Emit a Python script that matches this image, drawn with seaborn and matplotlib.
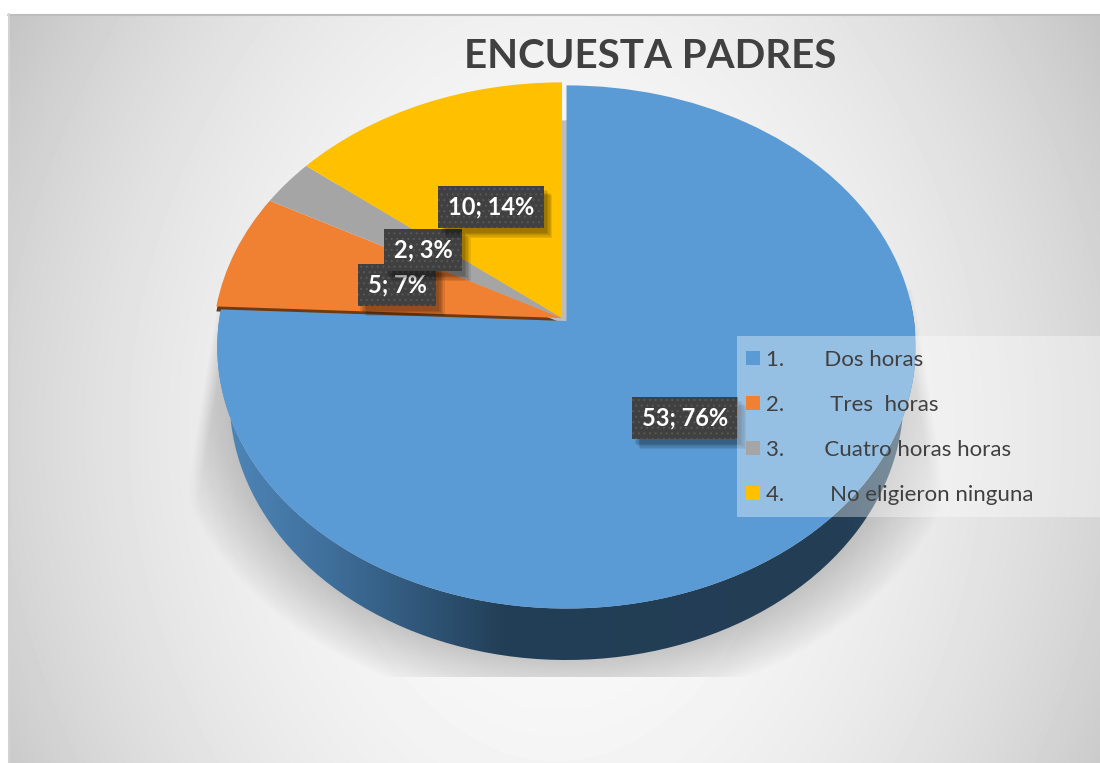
import numpy as np
import matplotlib
matplotlib.use("Agg")
import matplotlib.pyplot as plt
import matplotlib.patheffects as pe
from matplotlib.colors import LinearSegmentedColormap
from matplotlib.patches import PathPatch, Rectangle
from matplotlib.path import Path
from matplotlib.transforms import Transform
import seaborn as sns

# Data
values = [53, 5, 2, 10]
legend_labels = [
    "1.       Dos horas",
    "2.        Tres  horas",
    "3.       Cuatro horas horas",
    "4.        No eligieron ninguna",
]
title = "ENCUESTA PADRES"

# Label centres, in picture pixels
label_pos = [(685, 418), (397, 285), (423, 250), (491, 207)]

sns.set_theme(style="white")
plt.rcParams["font.family"] = ["Lato", "DejaVu Sans"]
plt.rcParams["hatch.linewidth"] = 0.8
colors = sns.color_palette(["#5B9BD5", "#F08032", "#A5A5A5", "#FFC000"])

W, H = 1100, 763
CX, CY = 562, 318
RX, RY, K = 347.5, 259, 0.0992
DEPTH = 54.5
BLUE_DX, BLUE_DY = 4.5, 3


# Tilted view of the unit pie, mapped to picture pixels
class Tilt(Transform):
    input_dims = 2
    output_dims = 2

    def __init__(self, dx=0, dy=0, sx=1.0):
        super().__init__()
        self.dx, self.dy, self.sx = dx, dy, sx

    def transform_non_affine(self, values):
        values = np.asarray(values, dtype=float)
        u, v = values[:, 0], values[:, 1]
        d = 1 + K * v
        return np.column_stack(
            (CX + self.dx + self.sx * RX * u / d, CY + self.dy - RY * v / d)
        )


fig = plt.figure(figsize=(W / 100, H / 100), dpi=100)
ax = fig.add_axes([0, 0, 1, 1])

# Panel background, darker to the corners
yy, xx = np.mgrid[14:H, 8:W]
X2 = ((xx - 556) / 546) ** 2
Y2 = ((yy - 430) / 416) ** 2
shade = 251 - 55 * (0.68 * X2 + 0.2 * Y2 + 0.12 * X2 * Y2)
ax.imshow(shade, cmap="gray", vmin=0, vmax=255, extent=(8, W, H, 14), aspect="auto", zorder=0)
ax.plot([8, W], [14.5, 14.5], color="#bdbdbd", lw=1.5, zorder=0.5)
ax.plot([8.5, 8.5], [14, H], color="#d2d2d2", lw=1.5, zorder=0.5)

# Soft shadow under the pie
yy, xx = np.mgrid[290:677, 160:980]
d = (np.sqrt(((xx - 566) / 337) ** 2 + ((yy - 398) / 262) ** 2) - 1) * 300
soft = np.clip(1 - d / 58, 0, 1) ** 0.9
side = np.clip((np.abs(xx - 566) - (349 + (yy - 300) * 0.165)) / -14, 0, 1)
shadow = np.zeros(xx.shape + (4,))
shadow[..., 3] = 0.2 * soft * side
ax.imshow(shadow, extent=(160, 980, 677, 290), aspect="auto", zorder=1)

# Side wall with a left to right gradient
t = np.radians(np.linspace(168, 372, 200))
arc = np.column_stack((np.cos(t), np.sin(t)))
top_edge = Tilt(dx=BLUE_DX, dy=BLUE_DY).transform(arc)
low_edge = Tilt(dx=BLUE_DX, dy=DEPTH, sx=0.965).transform(arc)
wall = PathPatch(Path(np.vstack((top_edge, low_edge[::-1]))), transform=ax.transData, fc="none", lw=0)
ax.add_patch(wall)
wall_cmap = LinearSegmentedColormap.from_list(
    "wall",
    [(0, "#4f88bb"), (0.16, "#3f6f9b"), (0.3, "#2f5577"), (0.41, "#233f57"), (0.9, "#223d54"), (1, "#2f5069")],
)
ramp = np.linspace(0, 1, 300).reshape(1, -1)
grad = ax.imshow(ramp, cmap=wall_cmap, extent=(215, 915, 700, 300), aspect="auto", zorder=2)
grad.set_clip_path(wall)

# Pieces of wall seen through the gap: yellow side and orange edge
side_w = ax.pie(values, colors=["#bcbcbc"] * 4, startangle=90, counterclock=False, wedgeprops=dict(lw=0))[0]
edge_w = ax.pie(values, colors=["#6e3a12"] * 4, startangle=90, counterclock=False, wedgeprops=dict(lw=0))[0]
for i, w in enumerate(side_w):
    w.set_visible(i == 3)
    w.set_transform(Tilt(dx=5, dy=38) + ax.transData)
    w.set_zorder(2.5)
for i, w in enumerate(edge_w):
    w.set_visible(i == 1)
    w.set_transform(Tilt(dx=0, dy=5) + ax.transData)
    w.set_zorder(2.6)

# Top face
wedges = ax.pie(
    values,
    colors=colors,
    startangle=90,
    counterclock=False,
    wedgeprops=dict(lw=0),
)[0]

leg = ax.legend(
    wedges,
    legend_labels,
    frameon=False,
    loc="upper left",
    bbox_to_anchor=(739.4 / W, 1 - 343 / H),
    borderaxespad=0,
    fontsize=16,
    labelcolor="#404040",
    handlelength=0.63,
    handleheight=0.63,
    handletextpad=0.27,
    labelspacing=1.13,
    borderpad=0.3,
)
leg.set_zorder(6)

wedges[0].set_transform(Tilt(dx=BLUE_DX, dy=BLUE_DY) + ax.transData)
for w in wedges[1:]:
    w.set_transform(Tilt() + ax.transData)
for w in wedges:
    w.set_zorder(3)
wedges[0].set_zorder(3.1)

ax.set_aspect("auto")
ax.set_xlim(0, W)
ax.set_ylim(H, 0)
ax.axis("off")

# Legend backing
ax.add_patch(Rectangle((737, 336), 363, 181, fc="white", ec="none", alpha=0.36, zorder=5))

# Data labels, a plain box for the blurred shadow and then the dotted box
total = sum(values)
blur = [
    pe.withSimplePatchShadow(offset=(o, -o - 1), shadow_rgbFace="black", alpha=0.09)
    for o in (6, 5, 4, 3, 2)
]
for v, (x, y) in zip(values, label_pos):
    label = f"{v}; {v / total * 100:.0f}%"
    under = ax.text(
        x, y, label, color="none", fontsize=17, fontweight="bold", ha="center", va="center", zorder=4,
        bbox=dict(boxstyle="square,pad=0.42", fc="#404040", lw=0),
    )
    under.get_bbox_patch().set_path_effects(blur)
    ax.text(
        x, y, label, color="white", fontsize=17, fontweight="bold", ha="center", va="center", zorder=4,
        bbox=dict(boxstyle="square,pad=0.42", fc="#404040", ec="#565656", lw=0, hatch="..."),
    )

ax.text(650, 56, title, color="#404040", fontsize=29, fontweight="bold", ha="center", va="center", zorder=4)

fig.savefig("out.png", dpi=100, facecolor="white")
